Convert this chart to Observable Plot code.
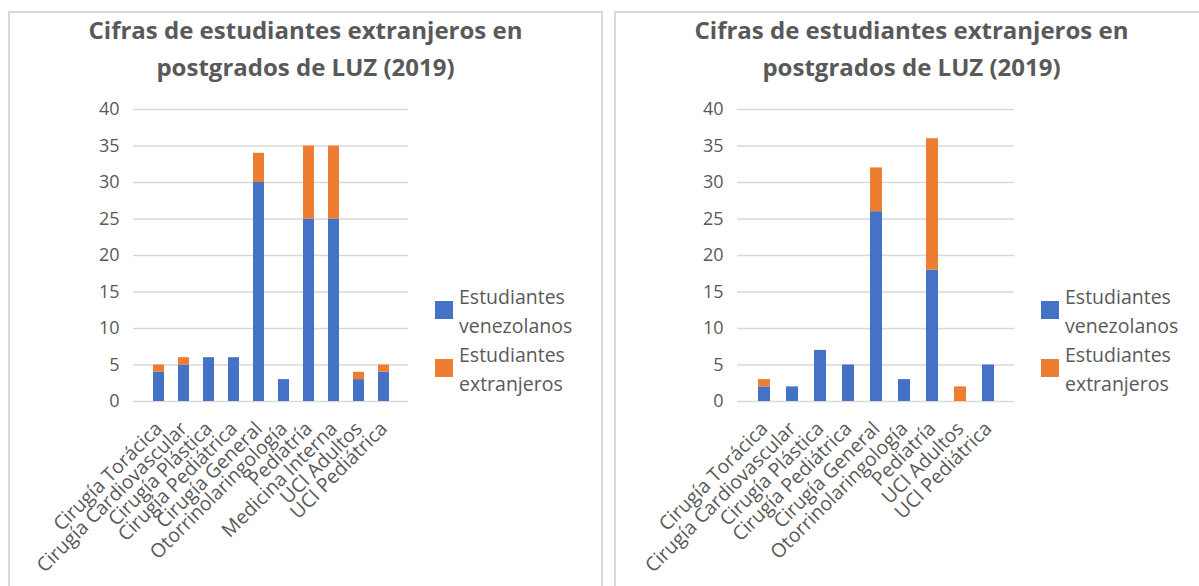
<!DOCTYPE html>
<html>
<head>
<meta charset="utf-8">
<script src="https://cdn.jsdelivr.net/npm/d3@7"></script>
<script src="https://cdn.jsdelivr.net/npm/@observablehq/plot@0.6"></script>
<style>
  html, body { margin: 0; padding: 0; background: #fff; width: 1199px; height: 586px; overflow: hidden; }
  .panel { position: absolute; top: 11px; width: 595px; height: 590px; border: 2px solid #d9d9d9; box-sizing: border-box; background: #fff; }
  .title { position: absolute; left: 0; right: 0; top: -2px; text-align: center; font-family: "Open Sans", sans-serif; font-weight: 700; font-size: 24px; line-height: 37px; color: #595959; }
  .chart { position: absolute; left: -2px; top: 77px; }
  .legend { position: absolute; left: 425px; top: 269px; font-family: "Open Sans", sans-serif; font-size: 19.5px; line-height: 29px; color: #595959; }
  .item { position: relative; padding-left: 24px; }
  .sw { position: absolute; left: 0; top: 19px; width: 18px; height: 18px; }
</style>
</head>
<body>
<div id="root"></div>
<script>
const titulo = ["Cifras de estudiantes extranjeros en", "postgrados de LUZ (2019)"];
const series = ["Estudiantes venezolanos", "Estudiantes extranjeros"];
const seriesLines = [["Estudiantes", "venezolanos"], ["Estudiantes", "extranjeros"]];
const colores = ["#4472C4", "#ED7D31"];
const yTicks = [0, 5, 10, 15, 20, 25, 30, 35, 40];

// Left chart
const categoriasA = ["Cirugía Torácica", "Cirugía Cardiovascular", "Cirugía Plástica", "Cirugía Pediátrica", "Cirugía General", "Otorrinolaringología", "Pediatría", "Medicina Interna", "UCI Adultos", "UCI Pediátrica"];
const venezolanosA = [4, 5, 6, 6, 30, 3, 25, 25, 3, 4];
const extranjerosA = [1, 1, 0, 0, 4, 0, 10, 10, 1, 1];

// Right chart
const categoriasB = ["Cirugía Torácica", "Cirugía Cardiovascular", "Cirugía Plástica", "Cirugía Pediátrica", "Cirugía General", "Otorrinolaringología", "Pediatría", "UCI Adultos", "UCI Pediátrica"];
const venezolanosB = [2, 2, 7, 5, 26, 3, 18, 0, 5];
const extranjerosB = [1, 0, 0, 0, 6, 0, 18, 2, 0];

function rowsFor(cats, v, e) {
  const rows = [];
  cats.forEach((c, i) => rows.push({cat: c, serie: series[0], value: v[i]}));
  cats.forEach((c, i) => rows.push({cat: c, serie: series[1], value: e[i]}));
  return rows;
}

function makePanel(left, cats, v, e, marginLeft) {
  const panel = document.createElement("div");
  panel.className = "panel";
  panel.style.left = left + "px";
  const t = document.createElement("div");
  t.className = "title";
  t.innerHTML = titulo.join("<br>");
  panel.appendChild(t);

  const chart = Plot.plot({
    width: 440,
    height: 500,
    marginLeft: marginLeft,
    marginRight: 40,
    marginTop: 19,
    marginBottom: 189,
    style: {fontFamily: "Open Sans, sans-serif", color: "#595959", background: "transparent", overflow: "visible"},
    x: {domain: cats, padding: 0.58, label: null, axis: null},
    y: {domain: [0, 40], label: null, axis: null},
    color: {domain: series, range: colores},
    marks: [
      Plot.gridY(yTicks, {stroke: "#d9d9d9", strokeOpacity: 1, strokeWidth: 1.5}),
      Plot.barY(rowsFor(cats, v, e), {x: "cat", y: "value", fill: "serie", order: null}),
      Plot.axisY(yTicks, {tickSize: 0, tickPadding: 14, fontSize: 18, label: null}),
      Plot.axisX({tickRotate: -45, tickSize: 0, tickPadding: 24, fontSize: 19.5, label: null})
    ]
  });
  const wrap = document.createElement("div");
  wrap.className = "chart";
  wrap.appendChild(chart);
  panel.appendChild(wrap);

  const leg = document.createElement("div");
  leg.className = "legend";
  series.forEach((s, i) => {
    const it = document.createElement("div");
    it.className = "item";
    it.innerHTML = `<span class="sw" style="background:${colores[i]}"></span>${seriesLines[i].join("<br>")}`;
    leg.appendChild(it);
  });
  panel.appendChild(leg);
  document.getElementById("root").appendChild(panel);
}

makePanel(8, categoriasA, venezolanosA, extranjerosA, 125);
makePanel(614, categoriasB, venezolanosB, extranjerosB, 123);
</script>
</body>
</html>
